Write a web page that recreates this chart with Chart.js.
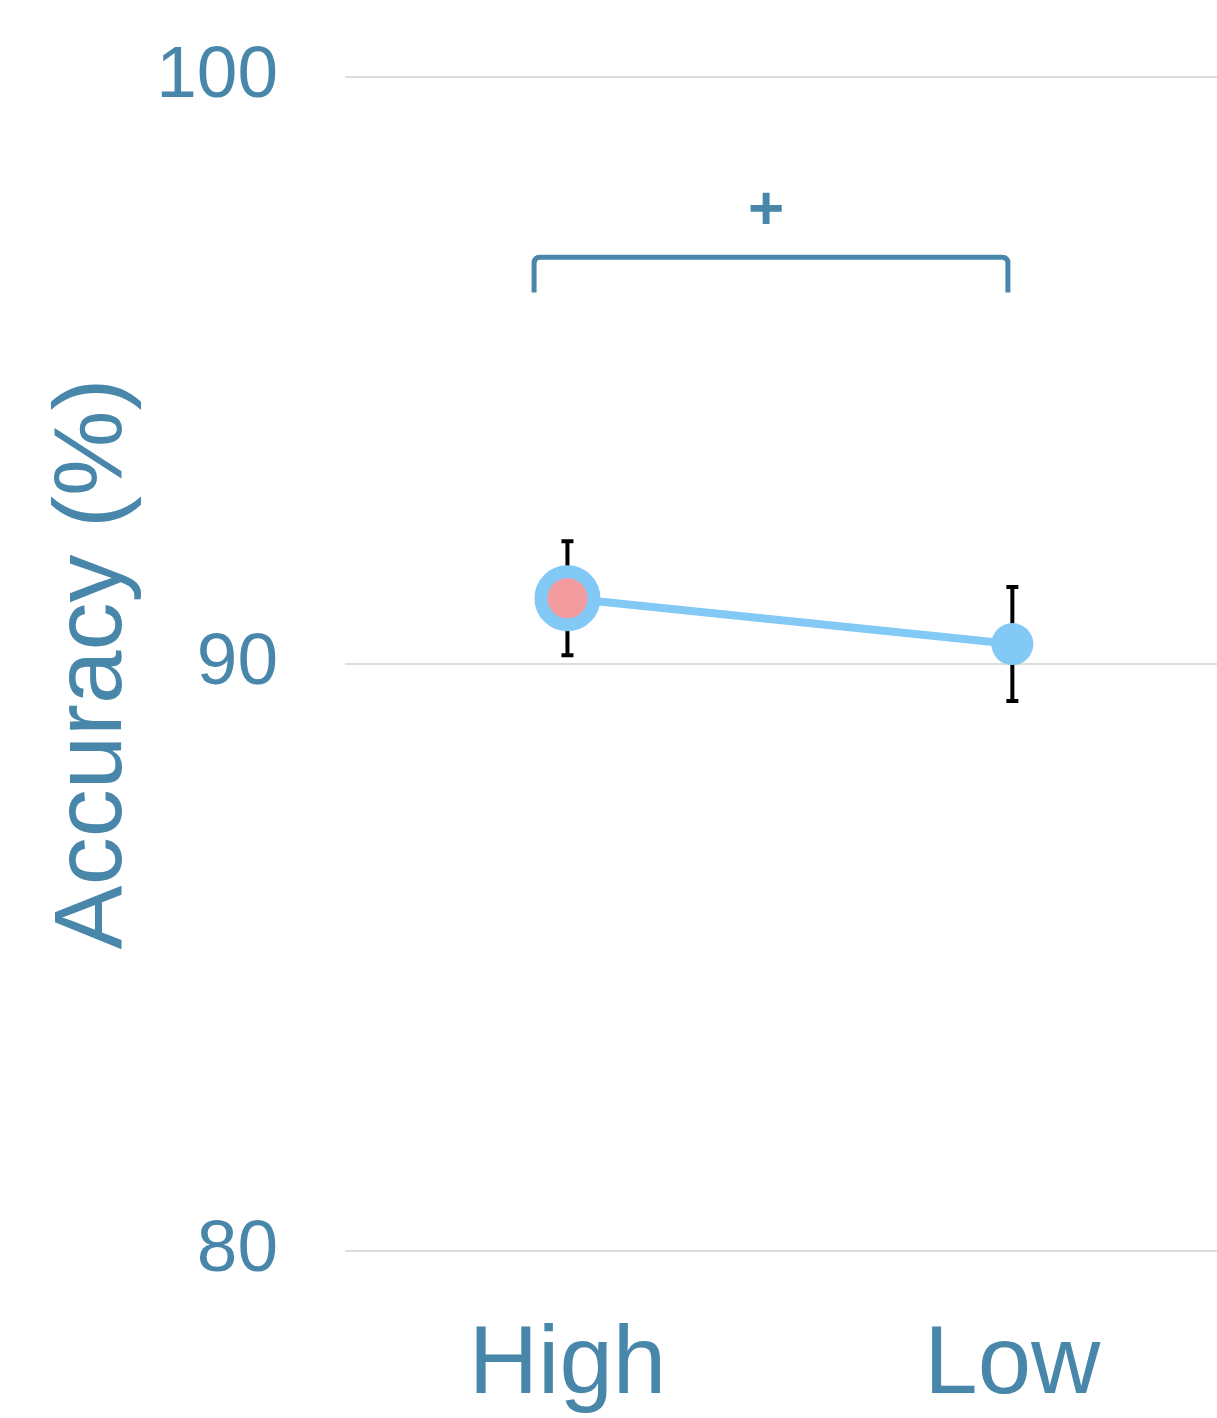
<!DOCTYPE html>
<html>
<head>
<meta charset="utf-8">
<title>Accuracy</title>
<script src="https://cdn.jsdelivr.net/npm/chart.js@4.4.1/dist/chart.umd.min.js"></script>
<style>
  html, body { margin: 0; padding: 0; background: #fff; overflow: hidden; }
  #wrap { width: 1217px; height: 1418px; }
</style>
</head>
<body>
<div id="wrap"><canvas id="chartAcc"></canvas></div>
<script>
// data
var categories = ['High', 'Low'];
var accuracy = [91.12, 90.34];
var errors = [0.97, 0.97];
var yTicks = [80, 90, 100];

// significance bracket between the two conditions
var sigLabel = '+';
var sigX = [-0.075, 0.99];
var sigY = [96.33, 96.93];
var sigLabelY = 97.7;

var blue = '#4887aa';
var lineBlue = '#82caf5';
var pink = '#f49ba0';
var fontFamily = '"Liberation Sans", Arial, Helvetica, sans-serif';

var points = categories.map(function (c, i) { return { x: i, y: accuracy[i] }; });

// error bars, drawn under the points
var errorBars = {
    id: 'errorBars',
    beforeDatasetsDraw: function (chart) {
        var ctx = chart.ctx, xs = chart.scales.x, ys = chart.scales.y;
        ctx.save();
        ctx.strokeStyle = '#000';
        ctx.lineWidth = 4;
        for (var i = 0; i < accuracy.length; i++) {
            var px = xs.getPixelForValue(i);
            var top = ys.getPixelForValue(accuracy[i] + errors[i]);
            var bot = ys.getPixelForValue(accuracy[i] - errors[i]);
            ctx.beginPath();
            ctx.moveTo(px, top); ctx.lineTo(px, bot);
            ctx.moveTo(px - 6, top); ctx.lineTo(px + 6, top);
            ctx.moveTo(px - 6, bot); ctx.lineTo(px + 6, bot);
            ctx.stroke();
        }
        ctx.restore();
    }
};

// bracket with the "+" mark
var bracket = {
    id: 'bracket',
    afterDraw: function (chart) {
        var ctx = chart.ctx, xs = chart.scales.x, ys = chart.scales.y;
        var x1 = xs.getPixelForValue(sigX[0]), x2 = xs.getPixelForValue(sigX[1]);
        var yLow = ys.getPixelForValue(sigY[0]), yTop = ys.getPixelForValue(sigY[1]);
        var r = 6;
        ctx.save();
        ctx.strokeStyle = blue;
        ctx.lineWidth = 5;
        ctx.beginPath();
        ctx.moveTo(x1, yLow);
        ctx.lineTo(x1, yTop + r);
        ctx.quadraticCurveTo(x1, yTop, x1 + r, yTop);
        ctx.lineTo(x2 - r, yTop);
        ctx.quadraticCurveTo(x2, yTop, x2, yTop + r);
        ctx.lineTo(x2, yLow);
        ctx.stroke();
        ctx.fillStyle = blue;
        ctx.font = 'bold 62px ' + fontFamily;
        ctx.textAlign = 'center';
        ctx.textBaseline = 'middle';
        ctx.fillText(sigLabel, xs.getPixelForValue((sigX[0] + sigX[1]) / 2) - 5, ys.getPixelForValue(sigLabelY));
        ctx.restore();
    }
};

var ctx = document.getElementById('chartAcc').getContext('2d');
var chartAcc = new Chart(ctx, {
    type: 'line',
    data: {
        datasets: [{
            data: points,
            borderColor: lineBlue,
            borderWidth: 8,
            pointRadius: [26.5, 21],
            pointBorderWidth: [13, 0],
            pointBackgroundColor: [pink, lineBlue],
            pointBorderColor: lineBlue,
            tension: 0
        }]
    },
    options: {
        responsive: true,
        maintainAspectRatio: false,
        animation: false,
        events: [],
        layout: { autoPadding: false, padding: { top: 77, right: 0, bottom: 0, left: 0 } },
        plugins: {
            legend: { display: false },
            tooltip: { enabled: false }
        },
        scales: {
            x: {
                type: 'linear',
                min: -0.5,
                max: 1.46,
                grid: { display: false },
                border: { display: false },
                afterBuildTicks: function (scale) {
                    scale.ticks = categories.map(function (c, i) { return { value: i }; });
                },
                afterFit: function (scale) {
                    scale.height = 167;
                    scale.paddingLeft = 0;
                    scale.paddingRight = 0;
                },
                ticks: {
                    color: blue,
                    padding: 50,
                    maxRotation: 0,
                    font: { family: fontFamily, size: 96 },
                    callback: function (v) { return categories[v]; }
                }
            },
            y: {
                min: 80,
                max: 100,
                afterBuildTicks: function (scale) {
                    scale.ticks = yTicks.map(function (v) { return { value: v }; });
                },
                afterFit: function (scale) {
                    scale.width = 345;
                    scale.paddingTop = 0;
                    scale.paddingBottom = 0;
                },
                grid: { color: '#dddddd', lineWidth: 2, drawTicks: false },
                border: { display: false },
                ticks: {
                    color: blue,
                    padding: 67,
                    font: { family: fontFamily, size: 73 }
                },
                title: {
                    display: true,
                    text: 'Accuracy (%)',
                    color: blue,
                    padding: { top: 37, bottom: 0 },
                    font: { family: fontFamily, size: 96 }
                }
            }
        }
    },
    plugins: [errorBars, bracket]
});
</script>
</body>
</html>
